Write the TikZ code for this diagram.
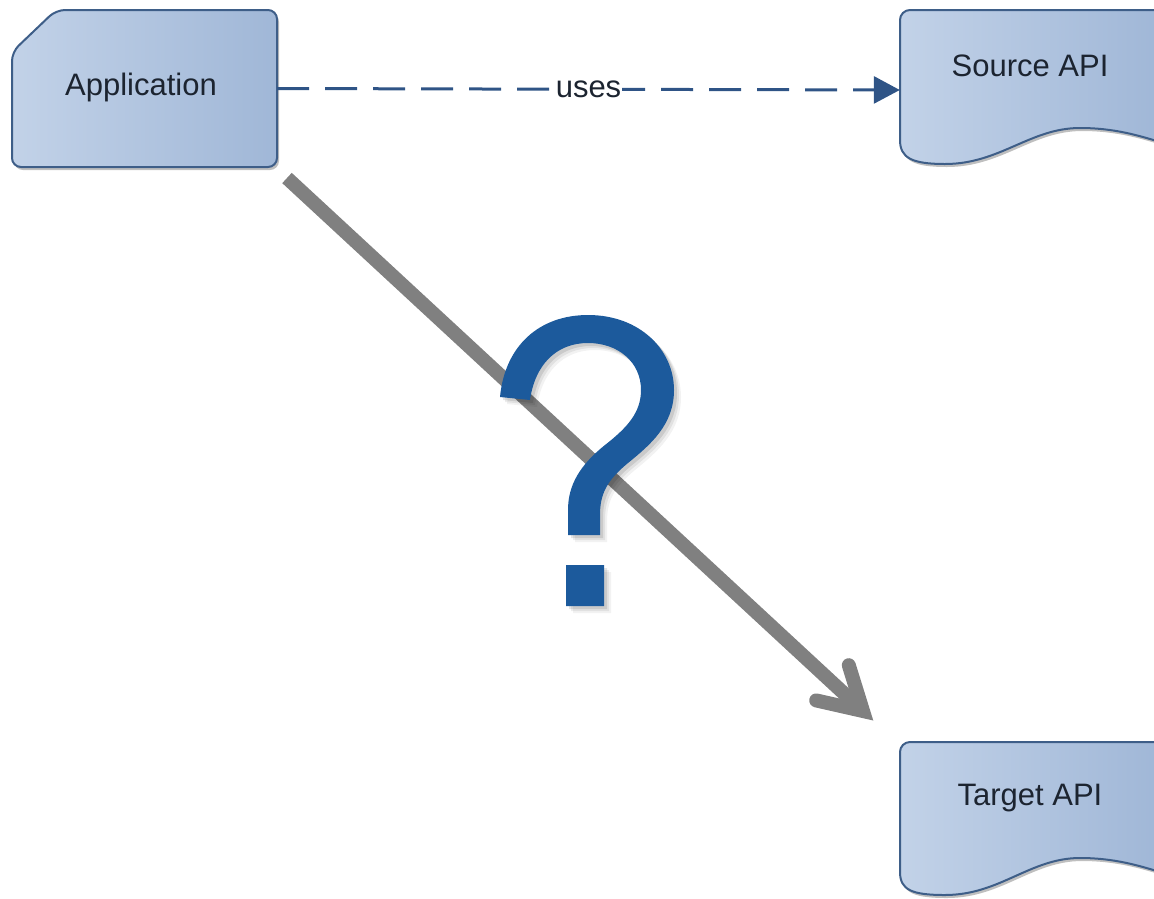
\documentclass[tikz,border=0pt]{standalone}
\usepackage{fontspec}
\setmainfont{Liberation Sans}
\usetikzlibrary{arrows.meta,shadows,calc}
\definecolor{boxlight}{HTML}{C2D2E8}
\definecolor{boxdark}{HTML}{A0B7D7}
\definecolor{boxedge}{HTML}{3E5E88}
\definecolor{usesblue}{HTML}{2F5486}
\definecolor{qblue}{HTML}{1C5A9C}
\definecolor{arrgray}{HTML}{808080}
\definecolor{txt}{HTML}{1C2430}
\begin{document}
\begin{tikzpicture}[x=1pt,y=-1pt,
  boxshape/.style={draw=boxedge, line width=2pt, left color=boxlight, right color=boxdark,
    drop shadow={shadow xshift=2pt, shadow yshift=-3pt, opacity=0.25, fill=black}},
  holder/.style={rectangle, draw=none, inner sep=0pt},
  lbl/.style={inner sep=0pt, font=\fontsize{31}{31}\selectfont, text=txt},
  usesline/.style={draw=usesblue, line width=3pt, dash pattern=on 32pt off 16pt,
    -{Triangle[length=26pt, width=27pt]}},
  uselbl/.style={fill=white, inner sep=1pt, font=\fontsize{31}{31}\selectfont, text=txt},
  grayline/.style={draw=arrgray, line width=14pt},
  qshadow/.style={fill=black, draw=none}
]
\useasboundingbox (0,0) rectangle (1154,898);
\clip (0,0) rectangle (1154,898);

% shapes
\path[boxshape, rounded corners=9pt] (12,52) -- (56,10) -- (277,10) -- (277,167) -- (12,167) -- cycle;
\path[boxshape] (1160,10) -- (910,10) arc[start angle=90, end angle=180, radius=10pt]
  -- (900,140) .. controls (900,158) and (912,164) .. (945,164)
  .. controls (1000,164) and (1030,128) .. (1080,128)
  .. controls (1115,128) and (1140,136) .. (1160,142) -- cycle;
\path[boxshape] (1160,742) -- (910,742) arc[start angle=90, end angle=180, radius=10pt]
  -- (900,872) .. controls (900,890) and (912,895) .. (945,895)
  .. controls (1000,895) and (1030,858) .. (1080,858)
  .. controls (1115,858) and (1140,866) .. (1160,872) -- cycle;

% nodes
\node[holder, minimum width=265pt, minimum height=157pt] (app) at (144.5,88.5) {};
\node[lbl] (applbl) at (141,87) {Application};
\node[holder, minimum width=260pt, minimum height=160pt] (src) at (1030,90) {};
\node[lbl] (srclbl) at (1030,66) {Source API};
\node[holder, minimum width=260pt, minimum height=152pt] (tgt) at (1030,818) {};
\node[lbl] (tgtlbl) at (1030,798) {Target API};

% uses connector
\draw[usesline] (app.east) -- node[uselbl] (useslbl) {uses} (src.west);

% gray arrow
\coordinate (qstart) at (287,178);
\coordinate (qend) at (863,711);
\draw[grayline] (qstart) -- (qend);
\draw[grayline, line cap=round, line join=miter]
  ($(qend)+(-14.2,-45.8)$) -- (qend) -- ($(qend)+(-46.8,-10.6)$);

% question mark (drawn shape) with soft shadow
\def\qpath{(500,397) .. controls (505,345) and (540,315) .. (588,315)
  .. controls (640,315) and (674,350) .. (674,390)
  .. controls (674,425) and (650,445) .. (628,463)
  .. controls (606,481) and (600,495) .. (600,515)
  -- (600,535) -- (568,535) -- (568,510)
  .. controls (568,485) and (580,465) .. (605,445)
  .. controls (628,427) and (641,412) .. (641,390)
  .. controls (641,362) and (618,343) .. (588,343)
  .. controls (556,343) and (535,365) .. (530,400) -- cycle
  (566,565) rectangle (604,606)}
\foreach \d/\o in {7/0.05, 5/0.07, 3/0.10} {
  \fill[qshadow, opacity=\o, shift={(\d pt,-\d pt)}] \qpath;
}
\fill[qblue] \qpath;
\end{tikzpicture}
\end{document}
